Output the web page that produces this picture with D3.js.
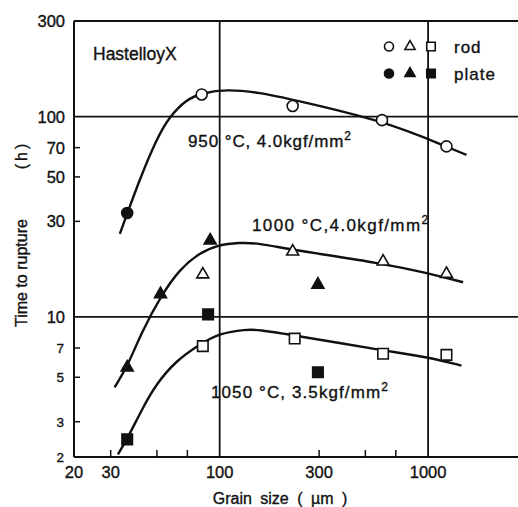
<!DOCTYPE html>
<head>
  <meta charset="utf-8">
  <title>Time to rupture vs grain size</title>
  <style>
    body { margin: 0; background: #fff; }
    text { font-family: "Liberation Sans", Arial, sans-serif; fill: #111; stroke: #111; stroke-width: 0.35; }
  </style>
</head>
<body>
<svg width="518" height="507"></svg>

<script src="https://d3js.org/d3.v7.min.js"></script>
<script>

  // tick labels
  const xTickLabels = [20, 30, 100, 300, 1000];
  const xMinorTicks = [30, 50, 70, 300, 500, 700];
  const yTickLabelsBig = [300, 100, 70, 50, 30, 10];
  const yTickLabelsSmall = [7, 5, 3, 2];
  const yMinorTicks = [70, 50, 30, 7, 5, 3];
  const xGrid = [100, 1000];
  const yGrid = [10, 100];

  // measured points [grain size (um), time (h)]
  const rod950 = [[82, 129], [224, 113], [601, 96], [1225, 71]];
  const plate950 = [[36, 33]];
  const rod1000 = [[83, 16.3], [224, 21.2], [608, 18.9], [1225, 16.4]];
  const plate1000 = [[36, 5.6], [52, 13.0], [90, 24.1], [296, 14.5]];
  const rod1050 = [[83, 7.15], [229, 7.8], [608, 6.55], [1225, 6.47]];
  const plate1050 = [[36, 2.45], [88, 10.3], [296, 5.3]];

  // hand drawn fitted curves
  const curve950 = [[33.2, 26], [36, 32.8], [41.2, 48.2], [50, 78], [57.5, 100], [69.2, 121.7], [82.2, 131],
    [107.7, 137], [155.6, 132], [224, 121.7], [601, 95.8], [1225, 70.9], [1528, 64.4]];
  const curve1000 = [[31.3, 4.45], [36.2, 5.7], [42, 8.3], [52.5, 12.85], [64.2, 17.3],
    [80.1, 20.9], [98, 22.9], [124.8, 23.5], [152, 23.4], [224, 21.6], [608, 18.5], [1006, 16.5], [1473, 14.9]];
  const curve1050 = [[32.5, 2.06], [36.2, 2.49], [42.8, 3.53], [49.6, 4.63], [61.9, 6.06], [80.1, 7.3],
    [100, 8.3], [134.3, 8.66], [152, 8.65], [229, 8.09], [608, 6.8], [1006, 6.29], [1446, 5.72]];

  let svg = d3.select("svg");

  const x = d3.scaleLog().domain([20, 2700]).range([74, 518]);
  const y = d3.scaleLog().domain([2, 300]).range([457, 21]);

  const line = d3.line()
    .x(d => x(d[0]))
    .y(d => y(d[1]))
    .curve(d3.curveBasis);

  // frame and grid
  const frame = svg.append("g").attr("stroke", "#111").attr("fill", "none");
  frame.append("line").attr("x1", x(20)).attr("x2", x(2700)).attr("y1", y(300)).attr("y2", y(300)).attr("stroke-width", 2);
  frame.append("line").attr("x1", x(20)).attr("x2", x(2700)).attr("y1", y(2)).attr("y2", y(2)).attr("stroke-width", 2);
  frame.append("line").attr("x1", x(20)).attr("x2", x(20)).attr("y1", y(300)).attr("y2", y(2)).attr("stroke-width", 2);

  frame.selectAll(".gx").data(xGrid).enter().append("line")
    .attr("x1", d => x(d)).attr("x2", d => x(d))
    .attr("y1", y(300)).attr("y2", y(2))
    .attr("stroke-width", 1.8);
  frame.selectAll(".gy").data(yGrid).enter().append("line")
    .attr("x1", x(20)).attr("x2", x(2700))
    .attr("y1", d => y(d)).attr("y2", d => y(d))
    .attr("stroke-width", 1.8);

  // minor ticks (inside)
  frame.selectAll(".tx").data(xMinorTicks).enter().append("line")
    .attr("x1", d => x(d)).attr("x2", d => x(d))
    .attr("y1", y(2)).attr("y2", y(2) - 7)
    .attr("stroke-width", 1.5);
  frame.selectAll(".ty").data(yMinorTicks).enter().append("line")
    .attr("x1", x(20)).attr("x2", x(20) + 6)
    .attr("y1", d => y(d)).attr("y2", d => y(d))
    .attr("stroke-width", 1.5);

  // tick labels
  svg.append("g").selectAll("text").data(xTickLabels).enter().append("text")
    .attr("x", d => x(d)).attr("y", 478)
    .attr("text-anchor", "middle")
    .attr("font-size", 16.5)
    .text(d => d);

  svg.append("g").selectAll("text").data(yTickLabelsBig).enter().append("text")
    .attr("x", 65).attr("y", d => y(d) + 6)
    .attr("text-anchor", "end")
    .attr("font-size", 16.5)
    .text(d => d);

  svg.append("g").selectAll("text").data(yTickLabelsSmall).enter().append("text")
    .attr("x", 64).attr("y", d => y(d) + 5)
    .attr("text-anchor", "end")
    .attr("font-size", 13.5)
    .text(d => d);

  // axis titles
  svg.append("text")
    .attr("x", 280).attr("y", 504)
    .attr("text-anchor", "middle")
    .attr("font-size", 16)
    .attr("word-spacing", 4)
    .text("Grain size ( µm )");

  svg.append("text")
    .attr("transform", "translate(27,327) rotate(-90)")
    .attr("font-size", 16)
    .text("Time to rupture");
  svg.append("text")
    .attr("transform", "translate(27,155) rotate(-90)")
    .attr("text-anchor", "middle")
    .attr("font-size", 16)
    .attr("letter-spacing", 3)
    .text("(h)");

  // curves
  svg.append("g").selectAll("path").data([curve950, curve1000, curve1050]).enter().append("path")
    .attr("d", line)
    .attr("fill", "none")
    .attr("stroke", "#111")
    .attr("stroke-width", 2.4);

  // markers
  const tri = d3.symbol().type(d3.symbolTriangle).size(62);
  const sq = d3.symbol().type(d3.symbolSquare).size(110);

  function circles(data, filled) {
    svg.append("g").selectAll("circle").data(data).enter().append("circle")
      .attr("cx", d => x(d[0])).attr("cy", d => y(d[1]))
      .attr("r", 5.5)
      .attr("fill", filled ? "#111" : "#fff")
      .attr("stroke", "#111").attr("stroke-width", 1.6);
  }
  function symbols(data, gen, filled) {
    svg.append("g").selectAll("path").data(data).enter().append("path")
      .attr("d", gen)
      .attr("transform", d => `translate(${x(d[0])},${y(d[1])})`)
      .attr("fill", filled ? "#111" : "#fff")
      .attr("stroke", "#111").attr("stroke-width", 1.6);
  }
  circles(rod950, false);
  circles(plate950, true);
  symbols(rod1000, tri, false);
  symbols(plate1000, tri, true);
  symbols(rod1050, sq, false);
  symbols(plate1050, sq, true);

  // legend
  const legend = svg.append("g");
  [[46.5, false, "rod"], [73.5, true, "plate"]].forEach(row => {
    legend.append("circle").attr("cx", 389).attr("cy", row[0]).attr("r", 4.5)
      .attr("fill", row[1] ? "#111" : "#fff").attr("stroke", "#111").attr("stroke-width", 1.6);
    legend.append("path").attr("d", d3.symbol().type(d3.symbolTriangle).size(45))
      .attr("transform", `translate(410,${row[0]})`)
      .attr("fill", row[1] ? "#111" : "#fff").attr("stroke", "#111").attr("stroke-width", 1.6);
    legend.append("path").attr("d", d3.symbol().type(d3.symbolSquare).size(72))
      .attr("transform", `translate(431,${row[0]})`)
      .attr("fill", row[1] ? "#111" : "#fff").attr("stroke", "#111").attr("stroke-width", 1.6);
    legend.append("text").attr("x", 454).attr("y", row[0] + 6)
      .attr("font-size", 17).attr("letter-spacing", 1)
      .text(row[2]);
  });

  svg.append("text")
    .attr("x", 93).attr("y", 60)
    .attr("font-size", 17.5)
    .text("HastelloyX");

  // curve labels
  function condLabel(px, py, main, spacing) {
    const t = svg.append("text")
      .attr("x", px).attr("y", py)
      .attr("font-size", 17)
      .attr("letter-spacing", spacing);
    t.append("tspan").text(main);
    t.append("tspan").attr("dy", -7).attr("font-size", 12).text("2");
  }
  condLabel(188, 147, "950 °C, 4.0kgf/mm", 0.9);
  condLabel(252, 231, "1000 °C,4.0kgf/mm", 1.4);
  condLabel(211, 398, "1050 °C, 3.5kgf/mm", 1.1);

</script>
</body>
